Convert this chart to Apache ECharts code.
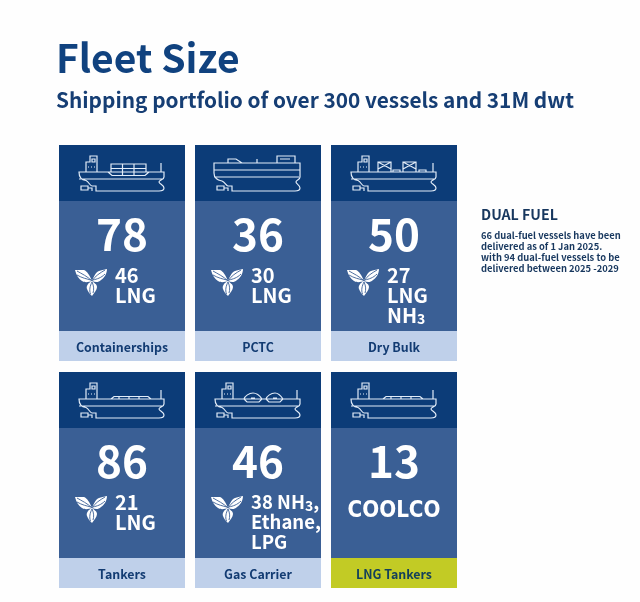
<!DOCTYPE html>
<html>
<head>
<meta charset="utf-8">
<style>html,body{margin:0;padding:0;background:#fefefe}#main{width:640px;height:602px}</style>
<script src="https://cdn.jsdelivr.net/npm/echarts@6/dist/echarts.min.js"></script>
</head>
<body>
<div id="main"></div>
<script>
// values
const columns = ['left', 'middle', 'right'];
const rows = ['top', 'bottom'];
const categories = ['Containerships', 'PCTC', 'Dry Bulk', 'Tankers', 'Gas Carrier', 'LNG Tankers'];
const fleetTotals = [78, 36, 50, 86, 46, 13];
const dualFuelCounts = [46, 30, 27, 21, 38, null];
const fuelLines = [
  ['LNG'],
  ['LNG'],
  ['LNG', 'NH{sub|3}'],
  ['LNG'],
  ['Ethane,', 'LPG'],
  []
];
const firstLineSuffix = ['', '', '', '', ' NH{sub|3},', ''];
const shipKinds = ['container', 'pctc', 'bulk', 'tanker', 'gas', 'tanker'];

const FONT = '"Noto Sans CJK SC","Noto Sans",sans-serif';
const NAVY = '#0c3c78', BODY = '#3a5f95', PALE = '#bfd0ea', LIME = '#c2cb25', INK = '#123b72';
const CARD_W = 126, HEAD_H = 56, LABEL_TOP = 186, CARD_H = 216;

// ship line drawings, in card-local pixels
const HULL = 'M20 27H105V32C105 35 100 35 100 37C100 39 105 40 105 43C105 46 102 46 100 46H37V41H33C31 41 30 37 27 35.5C23 35 20 33 20 27Z M20 34H104 M22 41H29V45H22Z M29 43H33V46';
const BRIDGE = 'M27 27V17H31V11H38V27 M33 14H36V17H33Z M29 22H30 M32 22H33 M35 22H36';
const MAST = 'M102 18V27';
const SHIPS = {
  container: HULL + BRIDGE + MAST + 'M52 27V19H87V27 M52 23.5H87 M63.5 19V30 M75 19V30 M49 27L53 30.5H86L90 27',
  pctc: 'M19 18H105V32C105 35 101 35 101 37C101 39 105 40 105 43C105 46 102 46 100 46H37V41H33C31 41 30 37 27 36C22 35 19 33 19 28Z M19 25H105 M19 32H104 M22 41H29V45H22Z M29 43H33V46 M33 18V14H41L47 18 M82 18V11H100V18 M85 14H95 M62 14V18',
  bulk: HULL + BRIDGE + MAST + 'M47 27V17H60V27 M47 17L60 24M60 17L47 24 M72 27V17H85V27 M72 17L85 24M85 17L72 24 M62 27V25H69V27 M88 27V25H95V27',
  tanker: HULL + BRIDGE + MAST + 'M52 27L55 24.5H89L92 27 M60 24.5V27 M70 24.5V27 M80 24.5V27',
  gas: HULL + BRIDGE + MAST + 'M49 27C50 24 54 21 58 21C62 21 65 24 67 27L64 30H52Z M71 27C72 24 76 21 80 21C84 21 86 24 88 27L85 30H74Z M56 26H60 M78 26H82'
};

// dual fuel leaf mark, drawn around its own centre
const LEAF = 'M0 0C-2 -5 -5 -10 -8 -11C-11 -11 -14 -11 -17 -11C-16 -6 -13 -2 -10 0C-7 2 -3 1 0 0Z' +
  'M0 0C2 -5 4 -9 7 -10C9 -11 12 -11 15 -12C15 -7 12 -3 9 -1C6 2 3 1 0 0Z' +
  'M0 0C-4 2 -6 5 -5 8C-4 11 -2 13 0 15C2 12 5 9 5 6C5 3 2 2 0 0Z';
const LEAF_VEINS = 'M0 0C-5 -5 -10 -7 -15 -10 M-1 -1C-5 -2 -10 -3 -15 -6 M0 0C3 -5 8 -8 13 -11 M1 -1C5 -2 9 -3 13 -7 M0 1C-2 5 -3 9 -1.5 13 M0 1C2 5 2 9 1 12';

function renderCard(params, api) {
  const i = params.dataIndex;
  const c = api.coord([api.value(0), api.value(1)]);
  const left = Math.round(c[0] - CARD_W / 2), top = Math.round(c[1] - CARD_H / 2);
  // the gas carrier has more to fit on a line
  const fuelSize = i === 4 ? 18.5 : 20;
  const rich = {
    sub: { fontSize: 14, fontWeight: 'bold', fontFamily: FONT, fill: '#fff', verticalAlign: 'bottom', padding: [8, 0, 0, 0] }
  };
  const line = (text, y) => ({
    type: 'text', x: 56, y: y,
    style: { text: text, fontFamily: FONT, fontWeight: 'bold', fontSize: fuelSize, fill: '#fff', verticalAlign: 'middle', rich: rich }
  });
  const children = [
    { type: 'rect', shape: { x: 0, y: 0, width: CARD_W, height: HEAD_H }, style: { fill: NAVY } },
    { type: 'rect', shape: { x: 0, y: HEAD_H, width: CARD_W, height: LABEL_TOP - HEAD_H }, style: { fill: BODY } },
    { type: 'rect', shape: { x: 0, y: LABEL_TOP, width: CARD_W, height: CARD_H - LABEL_TOP }, style: { fill: i === 5 ? LIME : PALE } },
    { type: 'path', shape: { pathData: SHIPS[shipKinds[i]] }, style: { fill: null, stroke: '#e2ecf8', lineWidth: 1.2 } },
    {
      type: 'text', x: CARD_W / 2, y: 89,
      style: { text: String(api.value(2)), fontFamily: FONT, fontWeight: 'bold', fontSize: 44, fill: '#fff', align: 'center', verticalAlign: 'middle' }
    },
    {
      type: 'text', x: CARD_W / 2, y: 202.5,
      style: { text: categories[i], fontFamily: FONT, fontWeight: 'bold', fontSize: 12.4, fill: i === 5 ? '#14405a' : INK, align: 'center', verticalAlign: 'middle' }
    }
  ];
  if (dualFuelCounts[i] != null) {
    children.push({ type: 'path', x: 33, y: 136, shape: { pathData: LEAF }, style: { fill: '#fff' } });
    children.push({ type: 'path', x: 33, y: 136, shape: { pathData: LEAF_VEINS }, style: { fill: null, stroke: BODY, lineWidth: 0.9 } });
    children.push(line(dualFuelCounts[i] + firstLineSuffix[i], 130));
    fuelLines[i].forEach((t, k) => children.push(line(t, 150 + k * 20)));
  } else {
    // Coolco wordmark
    children.push({
      type: 'text', x: CARD_W / 2, y: 139.5, scaleY: 1.12,
      style: { text: 'COOLCO', fontFamily: '"DejaVu Sans"', fontWeight: 'bold', fontSize: 20, fill: '#fff', align: 'center', verticalAlign: 'middle' }
    });
  }
  return { type: 'group', x: left, y: top, children: children };
}

const chart = echarts.init(document.getElementById('main'), null, { renderer: 'canvas' });
chart.setOption({
  animation: false,
  backgroundColor: '#fefefe',
  title: [
    { text: 'Fleet Size', left: 56, top: 39, padding: 0, textStyle: { fontFamily: FONT, fontWeight: 'bold', fontSize: 39, color: '#10427f' } },
    { text: 'Shipping portfolio of over 300 vessels and 31M dwt', left: 56, top: 90, padding: 0, textStyle: { fontFamily: FONT, fontWeight: 'bold', fontSize: 20.8, color: '#163e74' } },
    { text: 'DUAL FUEL', left: 481, top: 208, padding: 0, textStyle: { fontFamily: FONT, fontWeight: 'bold', fontSize: 14.2, color: '#17375e' } },
    {
      text: '66 dual-fuel vessels have been\ndelivered as of 1 Jan 2025.\nwith 94 dual-fuel vessels to be\ndelivered between 2025 -2029',
      left: 481, top: 230, padding: 0,
      textStyle: { fontFamily: FONT, fontWeight: 'bold', fontSize: 9.4, lineHeight: 11, color: '#17375e' }
    }
  ],
  grid: { left: 54, top: 139, width: 408, height: 454 },
  xAxis: { type: 'category', data: columns, show: false },
  yAxis: { type: 'category', data: rows, inverse: true, show: false },
  series: [{
    type: 'custom',
    silent: true,
    clip: false,
    renderItem: renderCard,
    encode: { x: 0, y: 1 },
    data: fleetTotals.map((v, i) => [i % 3, Math.floor(i / 3), v])
  }]
});
</script>
</body>
</html>
